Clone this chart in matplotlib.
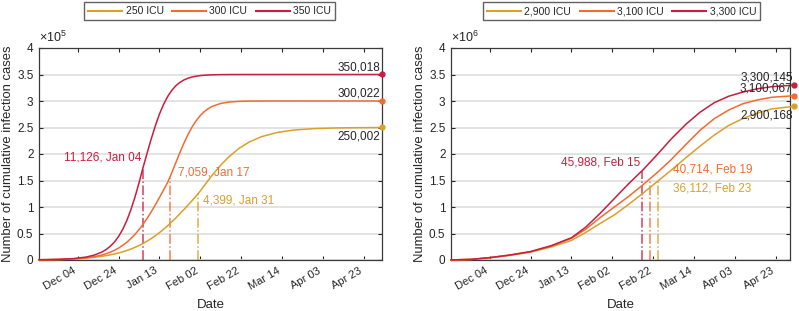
import numpy as np
import pandas as pd
import matplotlib
matplotlib.use('Agg')
import matplotlib.pyplot as plt
import matplotlib.dates as mdates
from matplotlib.ticker import FuncFormatter

plt.rcParams['font.family'] = ['Liberation Sans', 'DejaVu Sans']
plt.rcParams['mathtext.fontset'] = 'custom'
plt.rcParams['mathtext.rm'] = 'Liberation Sans'
plt.rcParams['mathtext.it'] = 'Liberation Sans:italic'

# ---------------- data ----------------
# left panel: cumulative infections for 250 / 300 / 350 ICU beds
dates_a = pd.to_datetime([
    '2020-11-15', '2020-11-25', '2020-12-02', '2020-12-08', '2020-12-12', '2020-12-16',
    '2020-12-18', '2020-12-20', '2020-12-22', '2020-12-24', '2020-12-26', '2020-12-28',
    '2020-12-30', '2021-01-01', '2021-01-03', '2021-01-05', '2021-01-07', '2021-01-09',
    '2021-01-11', '2021-01-13', '2021-01-15', '2021-01-17', '2021-01-19', '2021-01-21',
    '2021-01-23', '2021-01-25', '2021-01-27', '2021-01-29', '2021-01-31', '2021-02-02',
    '2021-02-04', '2021-02-06', '2021-02-08', '2021-02-12', '2021-02-16', '2021-02-21',
    '2021-02-26', '2021-03-04', '2021-03-12', '2021-03-20', '2021-03-30', '2021-04-10',
    '2021-04-21', '2021-05-02'])
labels_a = ['250 ICU', '300 ICU', '350 ICU']
cases_a_250 = [500, 1220, 2240, 3710, 5170, 7140,
               8360, 9780, 11420, 13290, 15440, 17870,
               20660, 23790, 27320, 31270, 35650, 40510,
               45830, 51630, 57910, 64620, 71800, 79340,
               87230, 95380, 103690, 112230, 120750, 130250,
               140670, 150870, 160730, 178960, 194740, 210720,
               222690, 232770, 240900, 245270, 247930, 249180,
               249670, 250002]
cases_a_300 = [215, 787, 1878, 3860, 6150, 9650,
               12010, 14900, 18390, 22590, 27590, 33500,
               40380, 48330, 57420, 67600, 78860, 91100,
               104200, 117970, 132100, 146440, 164300, 183600,
               202600, 220600, 236900, 251100, 263000, 272630,
               280140, 285880, 290140, 295400, 297980, 299330,
               299790, 299950, 299990, 300005, 300012, 300016,
               300019, 300022]
cases_a_350 = [480, 1260, 2700, 5520, 9140, 15350,
               20050, 26180, 34200, 44560, 57800, 74400,
               94750, 118700, 145800, 175000, 202250, 228850,
               253500, 275300, 293600, 308400, 319960, 328700,
               335100, 339740, 343000, 345300, 346860, 347930,
               348640, 349120, 349430, 349770, 349910, 349970,
               349990, 350000, 350005, 350008, 350011, 350014,
               350016, 350018]
peak_new_a = [4399, 7059, 11126]
peak_day_a = pd.to_datetime(['2021-01-31', '2021-01-17', '2021-01-04'])

# right panel: cumulative infections for 2,900 / 3,100 / 3,300 ICU beds
dates_b = pd.to_datetime([
    '2020-11-15', '2020-11-25', '2020-12-04', '2020-12-14', '2020-12-24',
    '2021-01-03', '2021-01-13', '2021-01-20', '2021-01-27', '2021-02-03',
    '2021-02-10', '2021-02-17', '2021-02-24', '2021-03-03', '2021-03-10',
    '2021-03-17', '2021-03-24', '2021-03-31', '2021-04-07', '2021-04-14',
    '2021-04-21', '2021-05-02'])
labels_b = ['2,900 ICU', '3,100 ICU', '3,300 ICU']
cases_b_2900 = [1000, 11000, 40000, 88000, 150000, 245000, 370000, 520000, 690000, 850000,
                1050000, 1260000, 1480000, 1700000, 1930000, 2150000, 2360000, 2540000, 2670000,
                2770000, 2850000, 2900168]
cases_b_3100 = [1500, 12000, 45000, 93000, 155000, 260000, 410000, 580000, 800000, 1000000,
                1200000, 1420000, 1650000, 1900000, 2180000, 2450000, 2670000, 2830000, 2950000,
                3020000, 3070000, 3100067]
cases_b_3300 = [2000, 12000, 45000, 95000, 160000, 270000, 420000, 620000, 880000, 1160000,
                1440000, 1700000, 1990000, 2290000, 2560000, 2790000, 2970000, 3090000, 3170000,
                3230000, 3270000, 3300145]
peak_new_b = [36112, 40714, 45988]
peak_day_b = pd.to_datetime(['2021-02-23', '2021-02-19', '2021-02-15'])

colors = ['#D9A02A', '#F26B30', '#C91E3F']
txt_col = '#262626'
tick_days = pd.date_range('2020-12-04', '2021-04-23', freq='20D')

# ---------------- figure ----------------
fig = plt.figure(figsize=(7.99, 3.11), dpi=100)
ax1 = fig.add_axes([39/799, 51/311, 343/799, 212/311])
ax2 = fig.add_axes([451/799, 51/311, 339/799, 212/311])


def num(d):
    return mdates.date2num(pd.to_datetime(d).to_pydatetime())


def panel(ax, dates, series, labels, peak_new, peak_day, scale, power, xmax, ann, legx, shift):
    for y, lab, c in zip(series, labels, colors):
        y = np.asarray(y) / scale
        ax.plot(dates, y, color=c, lw=1.1, label=lab, clip_on=False, zorder=3)
        ax.plot(dates[-1:], y[-1:], 'o', color=c, ms=3.5, clip_on=False, zorder=4)

    # final values
    for k, y in enumerate(series):
        below = (k == 0)
        ax.annotate(f'{y[-1]:,}', (dates[-1], y[-1] / scale),
                    xytext=(-1, -2 if below else 1), textcoords='offset points',
                    ha='right', va='top' if below else 'bottom',
                    fontsize=8.5, color=txt_col, zorder=5, annotation_clip=False)

    # peak of daily new cases
    xs = num(dates)
    for k, (y, c) in enumerate(zip(series, colors)):
        xd = peak_day[k] + pd.Timedelta(days=shift)
        top = np.interp(num([xd])[0], xs, np.asarray(y) / scale)
        ax.plot([xd, xd], [0, top], ls='-.', color=c, lw=1.1, alpha=0.85, zorder=2)
        dx, ty, ha = ann[k]
        ax.text(xd + pd.Timedelta(days=dx), ty,
                f'{peak_new[k]:,}, {peak_day[k].strftime("%b %d")}',
                color=c, fontsize=8.5, ha=ha, va='center', zorder=5)

    ax.set_xlim(pd.Timestamp('2020-11-15'), xmax)
    ax.set_ylim(0, 4)
    ax.set_yticks(np.arange(0, 4.01, 0.5))
    ax.yaxis.set_major_formatter(FuncFormatter(lambda v, p: f'{v:g}'))
    ax.set_xticks(tick_days)
    ax.set_xticklabels([d.strftime('%b %d') for d in tick_days], rotation=30, ha='right')
    ax.tick_params(direction='in', top=True, right=True, length=3, width=0.8,
                   labelsize=8.5, colors=txt_col, pad=4)
    ax.tick_params(axis='x', labelsize=8)
    ax.yaxis.grid(True, color='#E0E0E0', lw=1.3)
    ax.set_axisbelow(True)
    for s in ax.spines.values():
        s.set_color('#3A3A3A')
        s.set_linewidth(0.9)
    ax.set_xlabel('Date', fontsize=9.5, color=txt_col, labelpad=5)
    ax.set_ylabel('Number of cumulative infection cases', fontsize=9.4, color=txt_col, labelpad=2)
    ax.text(0, 1.015, r'$\times10^{%d}$' % power, transform=ax.transAxes,
            fontsize=9, color=txt_col, va='bottom', ha='left')

    leg = ax.legend(loc='upper center', bbox_to_anchor=(legx, 1.217), ncol=3,
                    fontsize=7.5, frameon=True, fancybox=False, handlelength=3.3,
                    handletextpad=0.3, columnspacing=0.8, borderpad=0.4,
                    borderaxespad=0)
    leg.get_frame().set_edgecolor('#3A3A3A')
    leg.get_frame().set_linewidth(1.0)
    for ln in leg.get_lines():
        ln.set_linewidth(1.5)
    for t in leg.get_texts():
        t.set_color(txt_col)


panel(ax1, dates_a, [cases_a_250, cases_a_300, cases_a_350], labels_a,
      peak_new_a, peak_day_a, 1e5, 5, pd.Timestamp('2021-05-02'),
      [(2.5, 1.13, 'left'), (4.0, 1.65, 'left'), (-0.7, 1.94, 'right')], 0.497, 1.0)
panel(ax2, dates_b, [cases_b_2900, cases_b_3100, cases_b_3300], labels_b,
      peak_new_b, peak_day_b, 1e6, 6, pd.Timestamp('2021-04-30'),
      [(7.5, 1.34, 'left'), (11.3, 1.70, 'left'), (-0.7, 1.84, 'right')], 0.503, 1.3)

fig.savefig('out.png', dpi=100)
